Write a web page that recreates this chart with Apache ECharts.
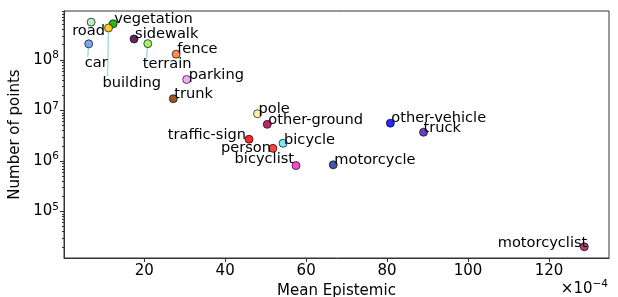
<!DOCTYPE html>
<html>
<head>
<meta charset="utf-8">
<script src="https://cdn.jsdelivr.net/npm/echarts@6/dist/echarts.min.js"></script>
<style>
  html, body { margin: 0; padding: 0; background: #fff; }
  #chart { width: 618px; height: 297px; }
</style>
</head>
<body>
<div id="chart"></div>
<script>
// classes
const classNames = [
  'road', 'vegetation', 'building', 'car', 'sidewalk', 'terrain', 'fence',
  'parking', 'trunk', 'pole', 'other-ground', 'traffic-sign', 'bicycle',
  'person', 'bicyclist', 'motorcycle', 'other-vehicle', 'truck', 'motorcyclist'
]
// mean epistemic, in units of 1e-4
const meanEpistemic = [
  6.9, 12.35, 11.2, 6.3, 17.5, 20.9, 27.9,
  30.5, 27.2, 48.0, 50.4, 45.9, 54.3,
  51.8, 57.5, 66.7, 80.8, 89.0, 128.7
]
const numPoints = [
  5.6e8, 5.2e8, 4.3e8, 2.08e8, 2.6e8, 2.1e8, 1.3e8,
  4.1e7, 1.71e7, 8.6e6, 5.3e6, 2.69e6, 2.24e6,
  1.78e6, 8.1e5, 8.4e5, 5.6e6, 3.7e6, 2.0e4
]
const classColors = [
  '#a8ecb8', '#00af00', '#ffc800', '#6496f5', '#4b004b', '#96f050', '#ff7832',
  '#ff96ff', '#873c00', '#fff096', '#af004b', '#ff0000', '#64e6f5',
  '#ff1e1e', '#ff28c8', '#1e3c96', '#0000ff', '#501eb4', '#961e5a'
]
const xTickLabels = [20, 40, 60, 80, 100, 120]
const yTickLabels = [1e5, 1e6, 1e7, 1e8]
const minorMultipliers = [2, 3, 4, 5, 6, 7, 8, 9]
const minorDecades = [1e4, 1e5, 1e6, 1e7, 1e8]

// label placement (px from the point): [dx, dy, align]
const labelPlace = {
  'road': [-19, 9.5, 'left'],
  'vegetation': [1, -5, 'left'],
  'building': [-6, 55, 'left'],
  'car': [-4, 19, 'left'],
  'sidewalk': [1, -5, 'left'],
  'terrain': [-5, 21, 'left'],
  'fence': [1, -5, 'left'],
  'parking': [2, -4, 'left'],
  'trunk': [1, -4, 'left'],
  'pole': [1, -4.5, 'left'],
  'other-ground': [1, -4.5, 'left'],
  'traffic-sign': [-3, -4, 'right'],
  'bicycle': [1, -3.5, 'left'],
  'person': [-2, -0.5, 'right'],
  'bicyclist': [-2, -6, 'right'],
  'motorcycle': [1, -4.5, 'left'],
  'other-vehicle': [1, -4.5, 'left'],
  'truck': [0, -4, 'left'],
  'motorcyclist': [3, -4, 'right']
}
// guide lines from the point down to the moved label (px)
const guideEnd = {
  'building': [-1, 48],
  'car': [-1, 13],
  'terrain': [-1.5, 16]
}

const minorTicks = []
minorDecades.forEach(d => minorMultipliers.forEach(m => {
  if (d * m > 1.2e4 && d * m < 9.3e8) minorTicks.push(d * m)
}))

const font = 'DejaVu Sans'
const fs = 15
const supRich = {
  b: { fontSize: fs, fontFamily: font, color: '#000' },
  sup: { fontSize: 10.5, fontFamily: font, color: '#000', padding: [0, 0, 9, 0] }
}

const points = classNames.map((name, i) => ({
  name: name,
  value: [meanEpistemic[i], numPoints[i]],
  itemStyle: { color: classColors[i] }
}))
const guides = classNames
  .map((name, i) => [meanEpistemic[i], numPoints[i], name])
  .filter(d => guideEnd[d[2]])

const chart = echarts.init(document.getElementById('chart'), null, { renderer: 'canvas' })
chart.setOption({
  animation: false,
  textStyle: { fontFamily: font },
  grid: { left: 64, right: 9, top: 11, bottom: 39, outerBoundsMode: 'none' },
  xAxis: {
    type: 'value',
    min: 0.2,
    max: 134.8,
    name: 'Mean Epistemic',
    nameLocation: 'middle',
    nameGap: 22,
    nameTextStyle: { fontSize: fs, color: '#000', fontFamily: font },
    axisLine: { lineStyle: { color: '#333', width: 1 } },
    axisTick: { show: true, inside: false, length: 4, customValues: xTickLabels, lineStyle: { color: '#333' } },
    axisLabel: { fontSize: fs, color: '#000', margin: 6, customValues: xTickLabels, fontFamily: font },
    splitLine: { show: false }
  },
  yAxis: [
    {
      type: 'log',
      min: 1.2e4,
      max: 9.3e8,
      name: 'Number of points',
      nameLocation: 'middle',
      nameGap: 32,
      nameTextStyle: { fontSize: fs, color: '#000', fontFamily: font },
      axisLine: { show: true, lineStyle: { color: '#333', width: 1 } },
      axisTick: { show: true, length: 4, customValues: yTickLabels, lineStyle: { color: '#333' } },
      axisLabel: {
        margin: 5,
        customValues: yTickLabels,
        formatter: v => '{b|10}{sup|' + Math.round(Math.log10(v)) + '}',
        rich: supRich
      },
      splitLine: { show: false }
    },
    {
      type: 'log',
      min: 1.2e4,
      max: 9.3e8,
      position: 'left',
      axisLine: { show: false },
      axisTick: { show: true, length: 2, customValues: minorTicks, lineStyle: { color: '#333' } },
      axisLabel: { show: false },
      splitLine: { show: false }
    }
  ],
  graphic: [
    {
      type: 'text',
      right: 10,
      top: 279,
      style: {
        text: '{b|×10}{sup|−4}',
        rich: supRich
      }
    },
    {
      type: 'rect',
      shape: { x: 64, y: 11, width: 545, height: 247 },
      style: { fill: 'none', stroke: '#333', lineWidth: 1 },
      silent: true
    }
  ],
  series: [
    {
      type: 'custom',
      yAxisIndex: 0,
      z: 1,
      silent: true,
      data: guides,
      renderItem: (params, api) => {
        const p = api.coord([api.value(0), api.value(1)])
        const end = guideEnd[guides[params.dataIndex][2]]
        return {
          type: 'line',
          shape: { x1: p[0], y1: p[1], x2: p[0] + end[0], y2: p[1] + end[1] },
          style: { stroke: '#add8e6', lineWidth: 1.5 }
        }
      }
    },
    {
      type: 'scatter',
      yAxisIndex: 0,
      z: 2,
      symbolSize: 8,
      data: points,
      itemStyle: { opacity: 0.85, borderColor: '#000', borderWidth: 0.8 },
      label: {
        show: true,
        position: 'inside',
        verticalAlign: 'middle',
        formatter: p => p.name,
        fontSize: 14.6,
        color: '#000',
        opacity: 1,
        fontFamily: font
      },
      labelLayout: params => {
        const pl = labelPlace[classNames[params.dataIndex]]
        const r = params.labelRect
        const cx = params.rect.x + params.rect.width / 2
        const cy = params.rect.y + params.rect.height / 2
        const left = pl[2] === 'left' ? cx + pl[0] : cx + pl[0] - r.width
        return { x: left, y: cy + pl[1], align: 'left', verticalAlign: 'middle' }
      }
    }
  ]
})
</script>
</body>
</html>
